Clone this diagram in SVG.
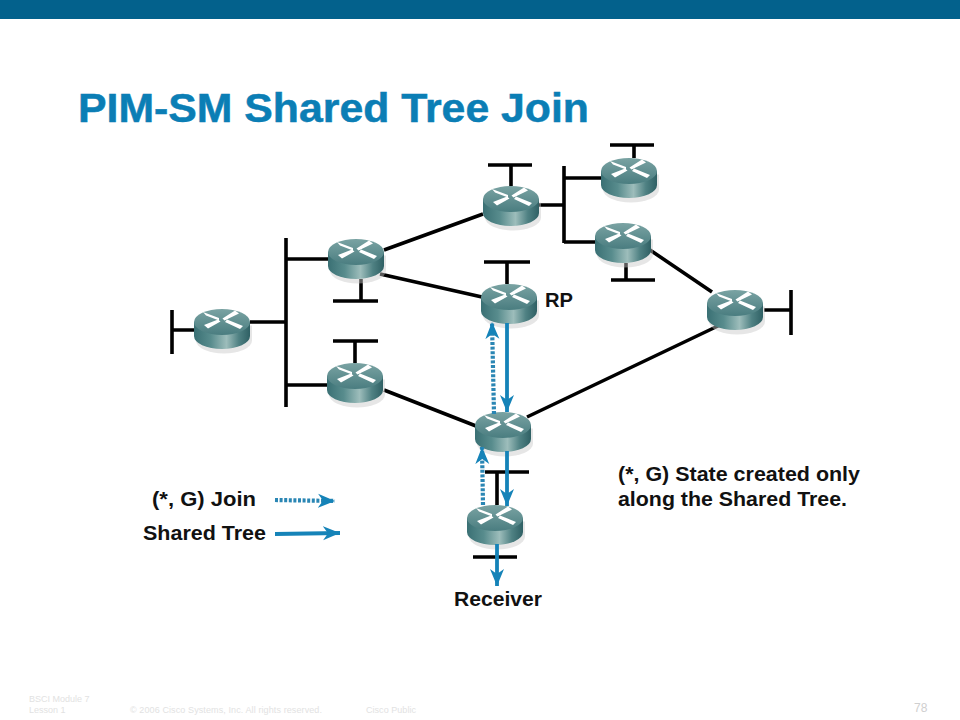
<svg xmlns="http://www.w3.org/2000/svg" width="960" height="720" viewBox="0 0 960 720">
<style>
.t{font-family:"Liberation Sans",Arial,sans-serif;font-weight:bold;font-size:19.500px;fill:#111}
.f{font-family:"Liberation Sans",Arial,sans-serif;font-size:9px;fill:#e2e2e2}
.w{stroke:#000;stroke-width:3.6;fill:none}
.s{stroke:#1583b8;stroke-width:3.8;fill:none;marker-end:url(#h)}
.d{stroke:#2a86b4;stroke-width:4.200;stroke-dasharray:3 1.6;fill:none;marker-end:url(#h)}
</style>
<defs>
<marker id="h" markerUnits="userSpaceOnUse" markerWidth="20" markerHeight="16" refX="17" refY="7.500" orient="auto"><path d="M0 0.500L17 7.500L0 14.500L5 7.500Z" fill="#1583b8"/></marker>
<linearGradient id="b"><stop offset="0" stop-color="#3a7074"/><stop offset=".3" stop-color="#588c8d"/><stop offset=".58" stop-color="#9dbdbb"/><stop offset=".8" stop-color="#4f8183"/><stop offset="1" stop-color="#2f6064"/></linearGradient>
<linearGradient id="c" x1="0" y1="0" x2="0" y2="1"><stop offset="0" stop-color="#7aa3a3"/><stop offset="1" stop-color="#4a7d80"/></linearGradient>
<g id="r">
<path d="M-26 -4V11A28 13 0 0 0 30 11V-4Z" fill="#c8c8c8" opacity=".45" transform="translate(0 .5)"/>
<path d="M-28 -7V7A28 13 0 0 0 28 7V-7Z" fill="url(#b)"/>
<ellipse cx="0" cy="-7" rx="28" ry="13" fill="url(#c)"/>
<path d="M-19 -17L-16 -13.500L-3 -8.500L-3 -11ZM-18 -4L-14 -0.500L-1.500 -7.500L-4 -9.500ZM21 -3L18 0L3 -7L5 -9.500ZM13 -18.500L17 -15.500L2.500 -8.500L0.500 -10.500Z" fill="#fff"/>
</g>
</defs>
<rect width="960" height="720" fill="#fff"/>
<rect id="banner" width="960" height="19" fill="#03618c"/>
<text x="78" y="122" textLength="511" lengthAdjust="spacingAndGlyphs" style="font-family:'Liberation Sans',Arial,sans-serif;font-weight:bold;font-size:40px;fill:#0b7eb5;stroke:#0b7eb5;stroke-width:.5">PIM-SM Shared Tree Join</text>
<g id="connectors">
<path class="w" d="M286 238V407M250 322H286M172 310V354M172 330H194M286 259H328M361 279V301M333 301H378M286 385H327M355 341V363M333 341H378M384 390L476 426M384 250L483 214M380 274L482 297M511 186V165M488 165H532M507 284V262M484 262H530M564 166V243M539 205H564M564 178H601M564 242H595M634 158V145M610 145H654M626 263V280M611 280H655M650 250L712 292M764 310H791M791 290V335M527 417L720 325M497 505V472M485 472H529M473 557H517"/>
</g>
<g id="routers">
<use id="router-1" href="#r" x="222" y="329"/>
<use id="router-2" href="#r" x="356" y="259"/>
<use id="router-3" href="#r" x="355" y="383"/>
<use id="router-4" href="#r" x="511" y="206"/>
<use id="router-rp" href="#r" x="509" y="304"/>
<use id="router-6" href="#r" x="629" y="178"/>
<use id="router-7" href="#r" x="623" y="243"/>
<use id="router-8" href="#r" x="735" y="310"/>
<use id="router-9" href="#r" x="503" y="432"/>
<use id="router-receiver" href="#r" x="495" y="525"/>
</g>
<g id="flows">
<path class="d" d="M494 414L492 322"/>
<path class="d" d="M483 505L482 447"/>
<path class="s" d="M507 323V412"/>
<path class="s" d="M507 451V506"/>
<path class="s" d="M497 544V586"/>
<path class="d" d="M275 500L335 501"/>
<path class="s" d="M275 534L340 533"/>
</g>
<g id="labels">
<text class="t" x="545" y="307" textLength="28" lengthAdjust="spacingAndGlyphs">RP</text>
<text class="t" x="454" y="606" textLength="88" lengthAdjust="spacingAndGlyphs">Receiver</text>
<text class="t" x="152" y="506" textLength="104" lengthAdjust="spacingAndGlyphs">(*, G) Join</text>
<text class="t" x="143" y="540" textLength="123" lengthAdjust="spacingAndGlyphs">Shared Tree</text>
<text class="t" x="618" y="481" textLength="242" lengthAdjust="spacingAndGlyphs">(*, G) State created only</text>
<text class="t" x="618" y="506" textLength="229" lengthAdjust="spacingAndGlyphs">along the Shared Tree.</text>
</g>
<g id="footer">
<text class="f" x="29" y="702">BSCI Module 7</text>
<text class="f" x="29" y="713">Lesson 1</text>
<text class="f" x="130" y="713" textLength="192">© 2006 Cisco Systems, Inc. All rights reserved.</text>
<text class="f" x="366" y="713" textLength="50">Cisco Public</text>
<text x="914" y="712" style="font-family:'Liberation Sans',Arial,sans-serif;font-size:12px;fill:#cfcfcf">78</text>
</g>
</svg>
